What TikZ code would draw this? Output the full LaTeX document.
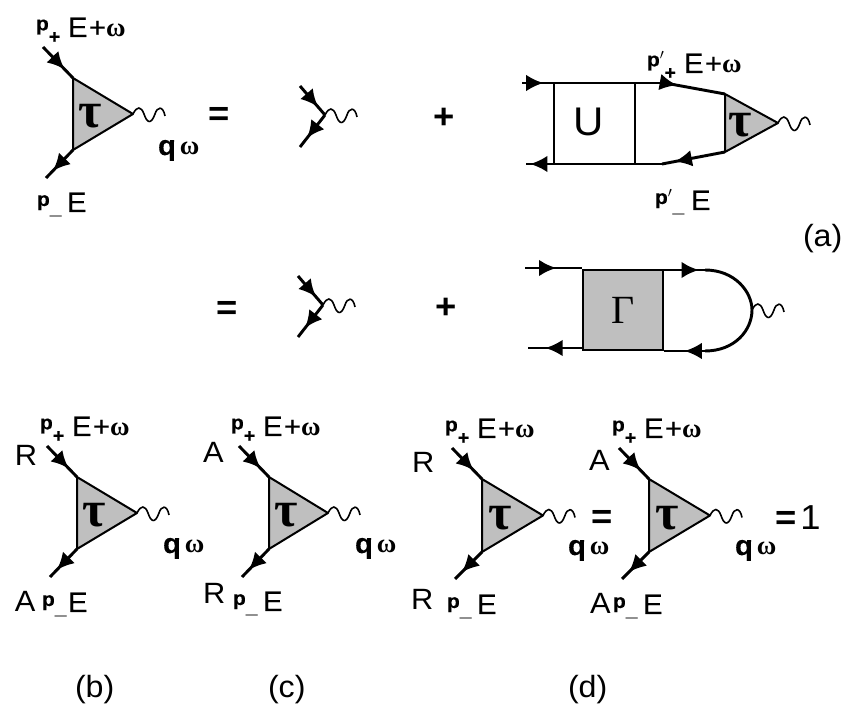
\documentclass[tikz,border=0pt]{standalone}
\usepackage{fontspec}
\setmainfont[FakeStretch=1.05]{Liberation Sans}
\newfontfamily\semi[FakeStretch=1.05,FakeBold=0.3]{Liberation Sans}
\newfontfamily\serifgr{Liberation Serif}
\usetikzlibrary{arrows.meta,decorations.markings}
\definecolor{boxgray}{gray}{0.75}
\tikzset{
  fline/.style={line width=2.2pt},
  thinl/.style={line width=1.4pt},
  tri/.style={line width=1.5pt,fill=boxgray,line join=round},
  wav/.style={line width=1.2pt},
  midarr/.style={postaction={decorate},decoration={markings,mark=at position #1 with {\arrow{Latex[length=13pt,width=12.5pt]}}}},
  txt/.style={anchor=base west,inner sep=0pt,outer sep=0pt,font=\fontsize{21}{21}\semi},
  big/.style={anchor=base west,inner sep=0pt,outer sep=0pt,font=\fontsize{22}{22}\selectfont},
  figlab/.style={anchor=base west,inner sep=0pt,outer sep=0pt,font=\fontsize{23}{23}\selectfont},
  rel/.style={anchor=base west,inner sep=0pt,outer sep=0pt,font=\fontsize{26}{26}\selectfont\bfseries},
  greek/.style={inner sep=0pt,font=\fontsize{38}{38}\serifgr\bfseries}
}
\newcommand{\omg}{{\serifgr\fontsize{20}{20}\selectfont\bfseries ω}}
\newcommand{\plusp}[2][24pt]{\hbox to #1{\raisebox{5pt}{\fontsize{15}{15}\selectfont\bfseries p#2}\raisebox{-4.5pt}{\fontsize{14}{14}\selectfont\bfseries +}\hfil}}
\newcommand{\minusp}[2][22.5pt]{\hbox to #1{\raisebox{4.5pt}{\fontsize{15}{15}\selectfont\bfseries p#2}\raisebox{-1.5pt}{\fontsize{15}{15}\selectfont\bfseries \_}\hfil}}
\newcommand{\Eplus}{E\kern1pt+\omg}
\newcommand{\qw}{{\fontsize{21}{21}\selectfont\bfseries q}\kern3pt\omg}
% #1 name, #2 x, #3 y of upper left corner, #4 width, #5 height
\newcommand{\wavelet}[1]{\draw[wav,shift={(#1)}] (0,0) .. controls (4,-8) and (8,-8) .. (11,0) .. controls (14,9) and (18,11) .. (22,0) .. controls (24,-7) and (30,-9) .. (32,2);}
\newcommand{\tauvertex}[5]{%
  \coordinate (#1a) at (#2,#3);
  \coordinate (#1b) at (#2,#3+#5);
  \coordinate (#1c) at (#2+#4,#3+#5/2);
  \draw[tri] (#1a) -- (#1b) -- (#1c) -- cycle;
  \node[greek] (#1t) at (#2+#4*0.29,#3+#5*0.53) {τ};
  \wavelet{#1c}
}
\newcommand{\legs}[3]{%
  \coordinate (#1i) at (#2-30,#3-31);
  \coordinate (#1o) at (#2-27,#3+100);
  \draw[fline,midarr=.72] (#1i) -- (#1a);
  \draw[fline,midarr=.75] (#1b) -- (#1o);
}
\newcommand{\barev}[3]{%
  \coordinate (#1j) at (#2,#3);
  \coordinate (#1i) at (#2-25,#3-29);
  \coordinate (#1o) at (#2-25,#3+32);
  \draw[fline,midarr=.72] (#1i) -- (#1j);
  \draw[fline,midarr=.72] (#1j) -- (#1o);
  \wavelet{#1j}
}
\begin{document}
\begin{tikzpicture}[x=0.75pt,y=-0.75pt]
\useasboundingbox (0,0) rectangle (844,709);
% ---- (a) first line
\tauvertex{A}{73}{78}{60}{72}
\legs{A}{73}{78}
\node[txt] (A1) at (36,37) {\plusp{}\Eplus};
\node[txt] (A2) at (37,212) {\minusp{}E};
\node[txt] (A3) at (158,155) {\qw};
\node[rel] (eq1) at (208,126) {=};
\barev{B}{325}{115}
\node[rel] (pl1) at (433,129) {+};
% box with U
\coordinate (ua) at (522,83);
\coordinate (ub) at (665,83);
\coordinate (uc) at (526,164);
\coordinate (ud) at (662,164);
\coordinate (u1) at (554,83);
\coordinate (u2) at (554,164);
\coordinate (u3) at (635,83);
\coordinate (u4) at (635,164);
\tauvertex{C}{725}{94}{53}{58}
\draw[fline,midarr=.15] (ua) -- (ub);
\draw[fline,midarr=.2] (ub) -- (Ca);
\draw[fline,midarr=.8] (Cb) -- (ud);
\draw[fline,midarr=.97] (ud) -- (uc);
\draw[thinl] (u1) -- (u2);
\draw[thinl] (u3) -- (u4);
\node[inner sep=0pt,font=\fontsize{30}{30}\selectfont] (U) at (589,122) {U};
\node[txt] (C1) at (647,73) {\plusp[27.7pt]{$'$}\Eplus};
\node[txt] (C2) at (655,210) {\minusp[27pt]{$'$}E};
\node[figlab] (la) at (803,247) {(a)};
% ---- second line
\node[rel] (eq2) at (216,320) {=};
\barev{D}{323}{305}
\node[rel] (pl2) at (435,319) {+};
\node[draw,line width=1.5pt,fill=boxgray,minimum width=60pt,minimum height=60pt,inner sep=0pt,font=\fontsize{30}{30}\serifgr\selectfont] (G) at (623,310) {Γ};
\coordinate (ga) at (525,268);
\coordinate (gb) at (528,348);
\coordinate (gc) at (705,270);
\coordinate (gd) at (705,351);
\coordinate (ge) at (752,310);
\draw[fline,midarr=.55] (ga) -- (G.north west |- ga);
\draw[fline,midarr=.68] (G.south west |- gb) -- (gb);
\draw[fline,midarr=.85] (G.north east |- gc) -- (gc);
\draw[fline,midarr=.5] (gd) -- (G.south east |- gd);
\draw[fline] (gc) .. controls (735,270) and (752,292) .. (ge) .. controls (752,330) and (735,351) .. (gd);
\wavelet{ge}
% ---- (b)
\tauvertex{E}{77}{477}{60}{72}
\legs{E}{77}{477}
\node[txt] (E1) at (40,436) {\plusp{}\Eplus};
\node[big] (E2) at (15,466) {R};
\node[big] (E3) at (15,612) {A};
\node[txt] (E4) at (42,612) {\minusp[19.5pt]{}E};
\node[txt] (E5) at (163,553) {\qw};
\node[figlab] (lb) at (75,698) {(b)};
% ---- (c)
\tauvertex{F}{269}{477}{59}{72}
\legs{F}{269}{477}
\node[txt] (F1) at (231,436) {\plusp{}\Eplus};
\node[big] (F2) at (203,463) {A};
\node[big] (F3) at (203,604) {R};
\node[txt] (F4) at (233,611) {\minusp{}E};
\node[txt] (F5) at (355,553) {\qw};
\node[figlab] (lc) at (268,698) {(c)};
% ---- (d)
\tauvertex{H}{482}{479}{61}{73}
\legs{H}{482}{479}
\node[txt] (H1) at (445,438) {\plusp{}\Eplus};
\node[big] (H2) at (412,473) {R};
\node[big] (H3) at (411,610) {R};
\node[txt] (H4) at (447,614) {\minusp{}E};
\node[txt] (H5) at (568,555) {\qw};
\node[rel] (eq3) at (591,529) {=};
\tauvertex{J}{649}{479}{61}{73}
\legs{J}{649}{479}
\node[txt] (J1) at (612,438) {\plusp{}\Eplus};
\node[big] (J2) at (589,471) {A};
\node[big] (J3) at (590,614) {A};
\node[txt] (J4) at (613,614) {\minusp{}E};
\node[txt] (J5) at (735,555) {\qw};
\node[rel] (J6) at (775,530) {=\kern3pt\mdseries\fontsize{26}{26}\selectfont 1};
\node[figlab] (ld) at (568,698) {(d)};
\end{tikzpicture}
\end{document}
